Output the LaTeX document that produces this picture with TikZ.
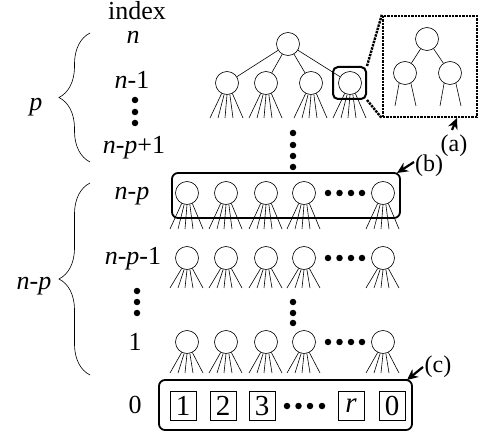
\documentclass[tikz,border=0pt]{standalone}
\usepackage{fontspec}
\setmainfont{Liberation Serif}
\usetikzlibrary{arrows.meta,decorations.pathreplacing,calc}
\newcommand\drawfan[2]{%
  \foreach \a/\dx in {243/-17,256/-9,270/-2,284/6,297/16}{%
    \draw[fanline] (#1.\a) -- ($(#1.center)+(\dx,#2)$);}}
\begin{document}
\begin{tikzpicture}[x=1pt,y=-1pt,
  nd/.style={circle,draw,line width=0.6pt,minimum size=23pt,inner sep=0pt},
  fanline/.style={line width=0.6pt},
  bigdot/.style={circle,fill,minimum size=6.5pt,inner sep=0pt},
  lab/.style={font=\fontsize{26}{30}\selectfont,inner sep=0pt},
  frame/.style={draw,rounded corners=6pt,line width=1.8pt,inner sep=0pt},
  cell/.style={draw,line width=0.7pt,minimum width=26pt,minimum height=29pt,inner sep=0pt,font=\fontsize{29}{31}\selectfont},
  callout/.style={line width=2.2pt,-{Stealth[length=11pt,width=10pt]}},
  tag/.style={font=\fontsize{24}{28}\selectfont,inner sep=0pt},
  dotline/.style={line width=2.4pt,densely dotted},
  bracestyle/.style={decorate,decoration={brace,amplitude=31pt,aspect=0.5},line width=0.6pt}]
\useasboundingbox (0,0) rectangle (483,436);

% index labels
\node[lab,anchor=base] (tindex) at (137,20) {index};
\node[lab,anchor=base] (tn) at (133,44) {\textit{n}};
\node[lab,anchor=base] (tn1) at (132,89) {\textit{n}-1};
\foreach \y [count=\i] in {100,112,123} \node[bigdot] (ld\i) at (135,\y) {};
\node[lab,anchor=base] (tnp1) at (134,154) {\textit{n}-\textit{p}+1};
\node[lab,anchor=base] (tnp) at (132,200) {\textit{n}-\textit{p}};
\node[lab,anchor=base] (tnpm) at (133,265) {\textit{n}-\textit{p}-1};
\foreach \y [count=\i] in {291,302,313} \node[bigdot] (lm\i) at (137,\y) {};
\node[lab,anchor=base] (tone) at (135,350) {1};
\node[lab,anchor=base] (tzero) at (135,413) {0};

% braces
\coordinate (bpb) at (90,162);
\coordinate (bpt) at (90,33);
\draw[bracestyle] (bpb) -- (bpt);
\node[lab,anchor=base] (tp) at (36,111) {\textit{p}};
\coordinate (bnb) at (90,375);
\coordinate (bnt) at (90,183);
\draw[bracestyle] (bnb) -- (bnt);
\node[lab,anchor=base] (tnpl) at (34,289) {\textit{n}-\textit{p}};

% top tree
\node[nd] (root) at (288,44) {};
\foreach \x [count=\i] in {227,266,311,350}{
  \node[nd] (c\i) at (\x,83) {};
  \draw[fanline] (root) -- (c\i);
  \drawfan{c\i}{35}
}
\node[frame,minimum width=33pt,minimum height=32pt,rounded corners=5pt,line width=2pt] (zbox) at (349.5,83) {};

% inset
\node[draw,dotline,minimum width=94pt,minimum height=101pt,inner sep=0pt] (inset) at (430,66.5) {};
\draw[dotline] (zbox.north east) -- (inset.north west);
\draw[dotline] (zbox.south east) -- (inset.south west);
\node[nd] (iroot) at (427,39) {};
\node[nd] (ic1) at (405,73) {};
\node[nd] (ic2) at (450,73) {};
\draw[fanline] (iroot) -- (ic1);
\draw[fanline] (iroot) -- (ic2);
\foreach \c in {ic1,ic2}{
  \draw[fanline] (\c.240) -- ($(\c.center)+(-10,33)$);
  \draw[fanline] (\c.300) -- ($(\c.center)+(11,33)$);
}
\coordinate (atail) at (452,130);
\coordinate (ahead) at (457,118);
\draw[callout] (atail) -- (ahead);
\node[tag] (la) at (454,146) {(a)};

% vertical dots
\foreach \y [count=\i] in {133,145,156,167} \node[bigdot] (vd\i) at (293,\y) {};
\foreach \y [count=\i] in {302,313,323} \node[bigdot] (vm\i) at (293,\y) {};

% rows
\foreach \x [count=\i] in {187,226,266,304,383}{
  \node[nd] (a\i) at (\x,193) {};
  \drawfan{a\i}{36}
  \node[nd] (b\i) at (\x,258) {};
  \drawfan{b\i}{30}
  \node[nd] (d\i) at (\x,342) {};
  \drawfan{d\i}{31}
}
\foreach \x [count=\i] in {328,339.5,351,362}{
  \node[bigdot] (ad\i) at (\x,193) {};
  \node[bigdot] (bd\i) at (\x,258) {};
  \node[bigdot] (dd\i) at (\x,342) {};
}

% box b
\node[frame,minimum width=228pt,minimum height=45pt] (boxb) at (286,195.5) {};
\coordinate (btail) at (414,162);
\coordinate (bhead) at (397,173);
\draw[callout] (btail) -- (bhead);
\node[tag] (lb) at (429,166) {(b)};

% box c
\node[frame,minimum width=253pt,minimum height=50pt] (boxc) at (285.5,405) {};
\node[cell] (s1) at (183,406) {1};
\node[cell] (s2) at (223,406) {2};
\node[cell] (s3) at (262,406) {3};
\node[cell] (sr) at (351,406) {\textit{r}};
\node[cell] (s0) at (392,406) {0};
\foreach \x [count=\i] in {287,298.5,310,322} \node[bigdot] (cd\i) at (\x,406) {};
\coordinate (ctail) at (423,367);
\coordinate (chead) at (407,380);
\draw[callout] (ctail) -- (chead);
\node[tag] (lc) at (438,367) {(c)};
\end{tikzpicture}
\end{document}
